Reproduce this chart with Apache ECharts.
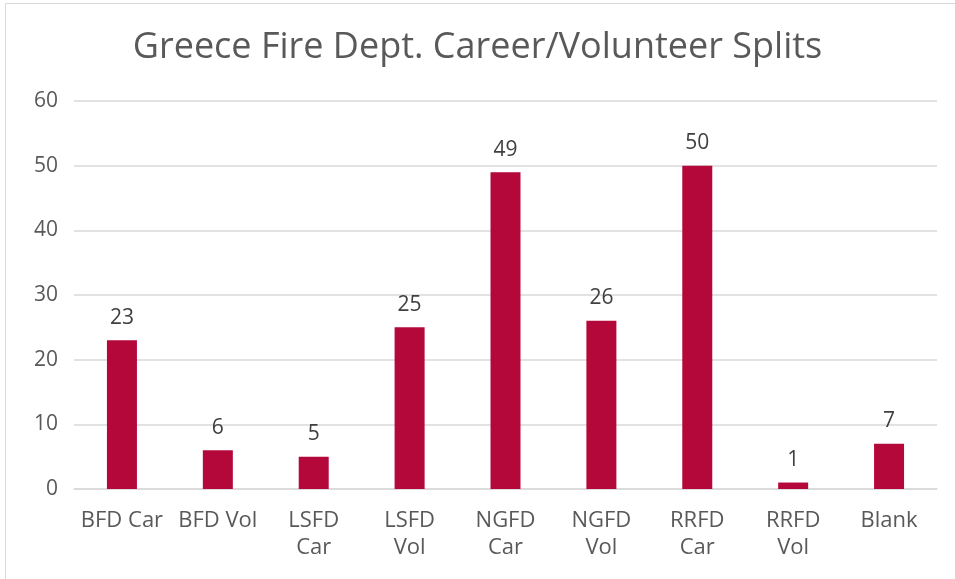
<!DOCTYPE html>
<html><head><meta charset="utf-8">
<script src="https://cdn.jsdelivr.net/npm/echarts@6/dist/echarts.min.js"></script>
<style>html,body{margin:0;padding:0;background:#fff}#c{width:955px;height:579px}</style>
</head><body><div id="c"></div>
<script>
const categories = ["BFD Car","BFD Vol","LSFD\nCar","LSFD\nVol","NGFD\nCar","NGFD\nVol","RRFD\nCar","RRFD\nVol","Blank"];
const values = [23,6,5,25,49,26,50,1,7];
const chart = echarts.init(document.getElementById('c'));
chart.setOption({
  animation:false,
  backgroundColor:'#fff',
  title:{text:'Greece Fire Dept. Career/Volunteer Splits',left:'center',top:25,
    textStyle:{fontFamily:'Open Sans',fontWeight:'normal',fontSize:36,color:'#595959'}},
  graphic:[{type:'rect',shape:{x:5.5,y:3.5,width:960,height:590},style:{fill:null,stroke:'#d9d9d9',lineWidth:1},silent:true}],
  grid:{left:74,right:18,top:101,bottom:90},
  xAxis:{type:'category',data:categories,
    axisLine:{lineStyle:{color:'#d9d9d9',width:1.5}},axisTick:{show:false},
    axisLabel:{color:'#595959',fontSize:22,fontFamily:'Open Sans',margin:18,lineHeight:27,interval:0}},
  yAxis:{type:'value',min:0,max:60,interval:10,
    axisLine:{show:false},axisTick:{show:false},
    splitLine:{lineStyle:{color:'#d9d9d9',width:1.5}},
    axisLabel:{color:'#595959',fontSize:21,fontFamily:'Open Sans',margin:16}},
  series:[{type:'bar',data:values,barWidth:30,itemStyle:{color:'#B5083A'},
    label:{show:true,position:'top',distance:12,color:'#404040',fontSize:21,fontFamily:'Open Sans'}}]
});
</script></body></html>
